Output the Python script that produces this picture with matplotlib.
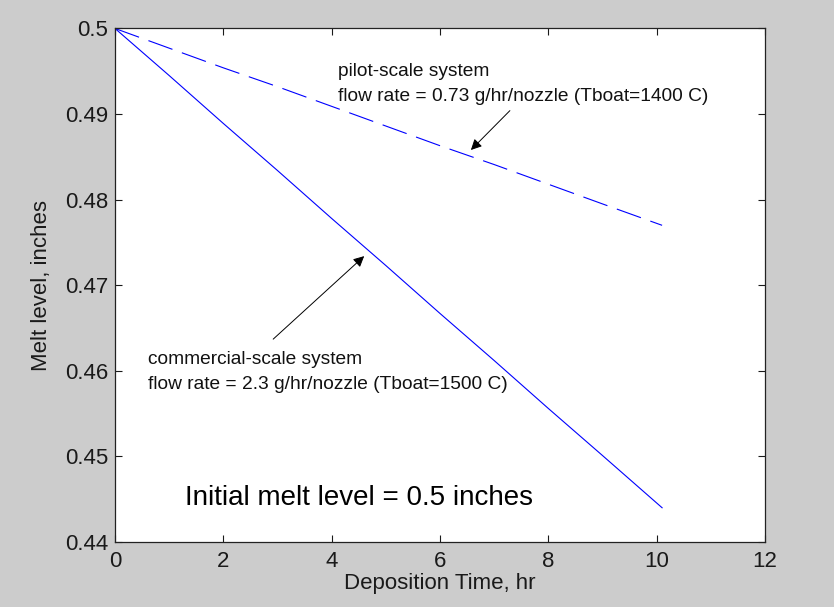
#!/usr/bin/env python3

import matplotlib
matplotlib.use("Agg")
from matplotlib import pyplot
from matplotlib.ticker import FuncFormatter

# melt level vs deposition time, sampled every hour
commercial_time = [0, 1, 2, 3, 4, 5, 6, 7, 8, 9, 10.1]
commercial_level = [0.5, 0.4945, 0.4889, 0.4834, 0.4778, 0.4723,
                    0.4667, 0.4612, 0.4556, 0.4501, 0.4440]

pilot_time = [0, 1, 2, 3, 4, 5, 6, 7, 8, 9, 10.1]
pilot_level = [0.5, 0.4977, 0.4954, 0.4932, 0.4909, 0.4886,
               0.4863, 0.4841, 0.4818, 0.4795, 0.4770]

x_ticks = [0, 2, 4, 6, 8, 10, 12]
y_ticks = [0.44, 0.45, 0.46, 0.47, 0.48, 0.49, 0.5]

pyplot.rcParams['font.family'] = ['Liberation Sans', 'DejaVu Sans']

fig = pyplot.figure(figsize=(8.34, 6.07), dpi=100, facecolor='#cccccc')
ax = fig.add_axes([0.1379, 0.1071, 0.7794, 0.846])
ax.set_facecolor('white')

ax.plot(commercial_time, commercial_level, color='#0000ff', lw=0.8)
ax.plot(pilot_time, pilot_level, color='#0000ff', lw=0.8,
        linestyle=(0, (23, 9)))

ax.set_xlim(0, 12)
ax.set_ylim(0.44, 0.5)
ax.set_xticks(x_ticks)
ax.set_yticks(y_ticks)
ax.yaxis.set_major_formatter(FuncFormatter(lambda v, _: f"{round(v, 4):g}"))
ax.xaxis.set_major_formatter(FuncFormatter(lambda v, _: f"{round(v, 4):g}"))

ax.tick_params(direction='in', length=5, width=0.8, top=True, right=True,
               labelsize=16, colors='#1a1a1a')
ax.tick_params(axis='x', pad=6.5)
ax.tick_params(axis='y', pad=5)
for spine in ax.spines.values():
    spine.set_linewidth(0.9)
    spine.set_color('#222222')

ax.set_xlabel("Deposition Time, hr", fontsize=16, color='#1a1a1a', labelpad=1)
ax.set_ylabel("Melt level, inches", fontsize=16, color='#1a1a1a')
ax.yaxis.set_label_coords(-0.097, 0.5)

# annotations
ax.text(4.122, 0.49444, "pilot-scale system", fontsize=13.8, color='#111111')
ax.text(4.122, 0.49156, "flow rate = 0.73 g/hr/nozzle (Tboat=1400 C)",
        fontsize=13.8, color='#111111')
ax.annotate("", xy=(6.57, 0.4858), xytext=(7.29, 0.4904),
            arrowprops=dict(arrowstyle='-|>', color='black', lw=0.7,
                            mutation_scale=16, shrinkA=0, shrinkB=0))

ax.text(0.615, 0.46076, "commercial-scale system", fontsize=13.8, color='#111111')
ax.text(0.615, 0.45787, "flow rate = 2.3 g/hr/nozzle (Tboat=1500 C)",
        fontsize=13.8, color='#111111')
ax.annotate("", xy=(4.60, 0.4734), xytext=(2.92, 0.4637),
            arrowprops=dict(arrowstyle='-|>', color='black', lw=0.7,
                            mutation_scale=16, shrinkA=0, shrinkB=0))

ax.text(1.29, 0.44427, "Initial melt level = 0.5 inches", fontsize=20,
        color='black')

fig.savefig("out.png", dpi=100, facecolor=fig.get_facecolor())
